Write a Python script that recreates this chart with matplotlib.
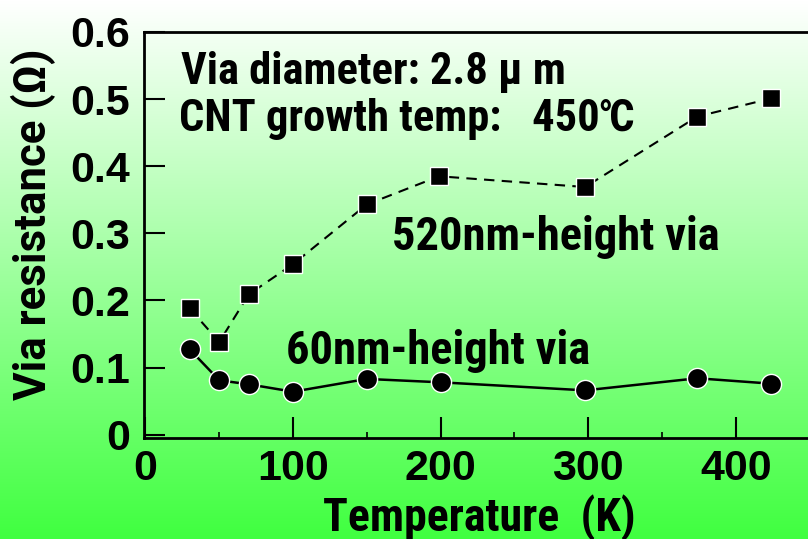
import numpy as np
import matplotlib
matplotlib.use("Agg")
import matplotlib.pyplot as plt
from matplotlib import font_manager
from matplotlib.ticker import MultipleLocator

# ---- data ----
temp_520 = [30, 50, 70, 100, 150, 199, 298, 374, 424]
res_520 = [0.188, 0.138, 0.209, 0.254, 0.343, 0.385, 0.369, 0.474, 0.501]
temp_60 = [30, 50, 70, 100, 150, 200, 298, 374, 424]
res_60 = [0.127, 0.081, 0.075, 0.064, 0.083, 0.078, 0.066, 0.084, 0.076]
xticks = [0, 100, 200, 300, 400]
yticks = [0, 0.1, 0.2, 0.3, 0.4, 0.5, 0.6]
ytick_labels = ["0", "0.1", "0.2", "0.3", "0.4", "0.5", "0.6"]

names = {f.name for f in font_manager.fontManager.ttflist}
narrow = "Noto Sans CJK JP"
for cand in ["Roboto Condensed", "Liberation Sans Narrow", "Arial Narrow",
             "Barlow Semi Condensed", "Archivo Narrow", "Asap Condensed"]:
    if cand in names:
        narrow = cand
        break
cond_family = [narrow, "Noto Sans CJK JP", "DejaVu Sans"]
wide_family = ["Roboto", "Liberation Sans", "Noto Sans CJK JP", "DejaVu Sans"]
tick_family = ["Liberation Sans", "DejaVu Sans"]

fig = plt.figure(figsize=(8.08, 5.39), dpi=100)

# gradient background
bg = fig.add_axes([0, 0, 1, 1], zorder=-10)
t = np.linspace(0, 1, 256)[:, None]
top = np.array([1.0, 1.0, 1.0])
bot = np.array([0x40, 0xff, 0x40]) / 255.0
grad = (top[None, None, :] * (1 - t[..., None]) + bot[None, None, :] * t[..., None])
grad = np.repeat(grad, 2, axis=1)
bg.imshow(grad, aspect="auto", extent=[0, 1, 0, 1], origin="upper")
bg.set_axis_off()

W, H = 808, 539
ax = fig.add_axes([144 / W, 1 - 438 / H, (W - 144) / W, (438 - 32) / H])
ax.patch.set_alpha(0)

ax.plot(temp_520, res_520, linestyle=(0, (5, 3.5)), color="black", linewidth=1.5,
        marker="s", markersize=13, markerfacecolor="black",
        markeredgecolor="white", markeredgewidth=1.0)
ax.plot(temp_60, res_60, linestyle="-", color="black", linewidth=1.8,
        marker="o", markersize=14.5, markerfacecolor="black",
        markeredgecolor="white", markeredgewidth=1.0)

ax.set_xlim(-1, 449)
ax.set_ylim(-0.005, 0.6)

ax.set_xticks(xticks)
ax.set_xticklabels([str(v) for v in xticks], family=tick_family, weight="bold", fontsize=31)
ax.xaxis.set_minor_locator(MultipleLocator(50))
ax.set_yticks(yticks)
ax.set_yticklabels(ytick_labels, family=tick_family, weight="bold", fontsize=31)

ax.tick_params(axis="x", which="major", direction="in", length=15, width=1.5, pad=8)
ax.tick_params(axis="x", which="minor", direction="in", length=4, width=1.2)
ax.tick_params(axis="y", which="major", direction="in", length=15, width=1.5, pad=10)

for s in ["left", "bottom", "top"]:
    ax.spines[s].set_linewidth(2)
ax.spines["right"].set_visible(False)

ax.set_xlabel("Temperature  (K)", family=cond_family, weight="bold", fontsize=33)
ax.xaxis.set_label_coords((479 - 144) / 664, (438 - 531) / 406)
ax.xaxis.label.set_va("baseline")
ax.set_ylabel("Via resistance (Ω)", family=wide_family, weight="bold", fontsize=31.5)
ax.yaxis.label.set_va("center")
ax.yaxis.set_label_coords((33 - 144) / 664, (438 - 224) / 406)

ax.text(24, 0.522, "Via diameter: 2.8 μ m", family=cond_family, weight="bold",
        fontsize=32, va="baseline", ha="left")
ax.text(23, 0.4527, "CNT growth temp:   450℃", family=cond_family, weight="bold",
        fontsize=32, va="baseline", ha="left")
ax.text(167, 0.2746, "520nm-height via", family=cond_family, weight="bold",
        fontsize=33.5, va="baseline", ha="left")
ax.text(95, 0.106, "60nm-height via", family=cond_family, weight="bold",
        fontsize=33.5, va="baseline", ha="left")

fig.savefig("out.png", dpi=100)
